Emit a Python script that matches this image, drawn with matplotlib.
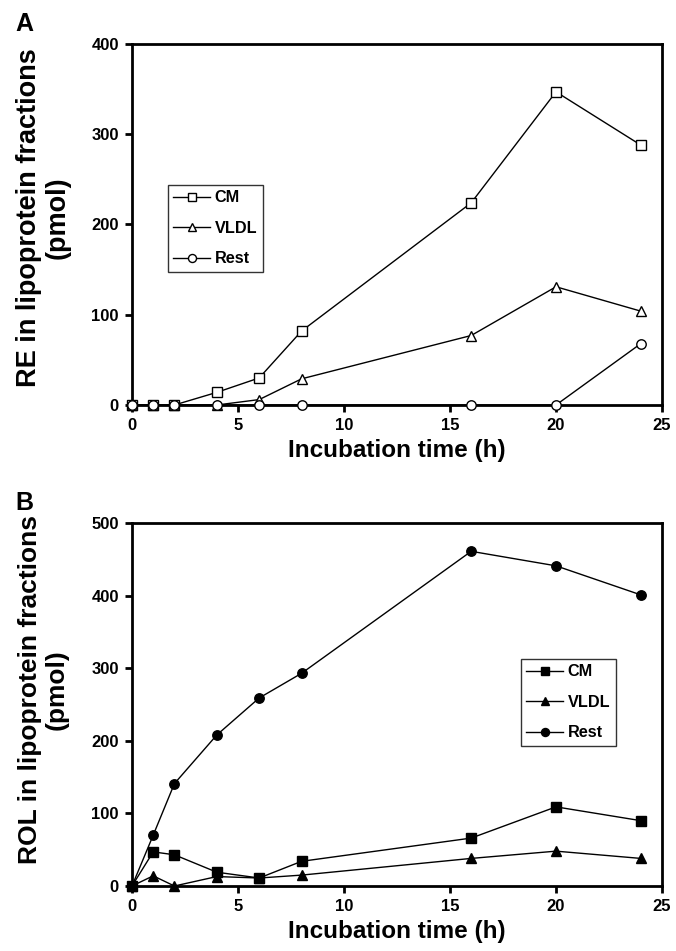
import matplotlib
matplotlib.use("Agg")
import matplotlib.pyplot as plt

plt.rcParams['font.family'] = ['Liberation Sans', 'DejaVu Sans']
plt.rcParams['font.weight'] = 'bold'

time = [0, 1, 2, 4, 6, 8, 16, 20, 24]

# Panel A: RE
re_cm = [0, 0, 0, 14, 30, 82, 224, 347, 288]
re_vldl = [0, 0, 0, 0, 6, 29, 77, 131, 104]
re_rest = [0, 0, 0, 0, 0, 0, 0, 0, 68]

# Panel B: ROL
rol_cm = [0, 47, 43, 19, 11, 34, 66, 109, 90]
rol_vldl = [0, 14, 0, 13, 11, 15, 38, 48, 38]
rol_rest = [0, 70, 141, 208, 259, 293, 461, 441, 401]

series_labels = ['CM', 'VLDL', 'Rest']
markers = ['s', '^', 'o']

W, H = 676, 951
fig = plt.figure(figsize=(W/100, H/100), dpi=100)

def px_axes(l, t, r, b):
    return fig.add_axes([l/W, 1 - b/H, (r-l)/W, (b-t)/H])

A_box = (132, 44, 662, 405)
B_box = (132, 523, 662, 886)
axA = px_axes(*A_box)
axB = px_axes(*B_box)

def style(ax, ymax, ystep):
    ax.set_xlim(0, 25)
    ax.set_ylim(0, ymax)
    ax.set_xticks(range(0, 26, 5))
    ax.set_yticks(range(0, ymax + 1, ystep))
    for s in ax.spines.values():
        s.set_linewidth(2.0)
    ax.tick_params(direction='out', length=5, width=2, labelsize=12, pad=4.5)
    for lab in ax.get_xticklabels() + ax.get_yticklabels():
        lab.set_fontweight('bold')
    ax.set_xlabel('Incubation time (h)', fontsize=17.5, fontweight='bold', labelpad=4)

def plot_series(ax, data, filled, box, leg_px):
    for vals, lab, m in zip(data, series_labels, markers):
        ax.plot(time, vals, color='black', lw=1, marker=m, ms=6.8,
                mfc='black' if filled else 'white', mec='black', mew=1,
                label=lab, clip_on=False, zorder=3)
    l, t, r, b = box
    anchor = ((leg_px[0] - l) / (r - l), 1 - (leg_px[1] - t) / (b - t))
    leg = ax.legend(loc='upper left', bbox_to_anchor=anchor, frameon=True,
                    fancybox=False, edgecolor='black', handlelength=2.25,
                    handletextpad=0.3, borderpad=0.33, labelspacing=0.95,
                    borderaxespad=0,
                    prop={'weight': 'bold', 'size': 11.7}, markerscale=0.85)
    leg.get_frame().set_linewidth(1)

plot_series(axA, [re_cm, re_vldl, re_rest], False, A_box, (168, 185))
style(axA, 400, 100)

plot_series(axB, [rol_cm, rol_vldl, rol_rest], True, B_box, (521, 659))
style(axB, 500, 100)

fig.text(43/W, 1 - 218/H, 'RE in lipoprotein fractions\n(pmol)', fontsize=19.5,
         fontweight='bold', rotation=90, ha='center', va='center',
         multialignment='center', linespacing=1.15)
fig.text(43/W, 1 - 690/H, 'ROL in lipoprotein fractions\n(pmol)', fontsize=19,
         fontweight='bold', rotation=90, ha='center', va='center',
         multialignment='center', linespacing=1.15)

fig.text(15/W, 1 - 24/H, 'A', fontsize=18, fontweight='bold', va='center')
fig.text(15/W, 1 - 503/H, 'B', fontsize=18, fontweight='bold', va='center')

fig.savefig('out.png', dpi=100, facecolor='white')
